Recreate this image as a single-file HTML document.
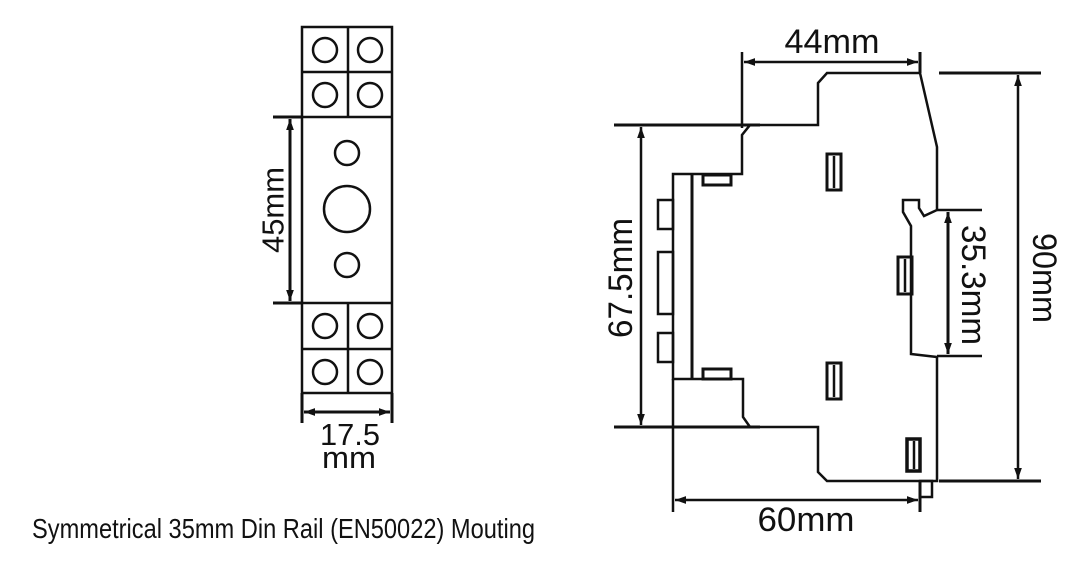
<!DOCTYPE html>
<html><head><meta charset="utf-8"><style>
html,body{margin:0;padding:0;background:#fff;}
svg{display:block;}
text{font-family:"Liberation Sans",Arial,sans-serif;fill:#111;}
</style></head><body>
<svg width="1089" height="569" viewBox="0 0 1089 569" xmlns="http://www.w3.org/2000/svg">
<defs>
<marker id="a" viewBox="0 0 10 10" refX="10" refY="5" markerWidth="11" markerHeight="11" markerUnits="userSpaceOnUse" orient="auto-start-reverse"><path d="M0,1.5 L10,5 L0,8.5 Z" fill="#111"/></marker>
</defs>
<g fill="none" stroke="#111" stroke-width="2.5">
<rect x="302" y="27" width="90" height="366"/>
<line x1="302" y1="72" x2="392" y2="72"/>
<line x1="302" y1="117" x2="392" y2="117"/>
<line x1="302" y1="303" x2="392" y2="303"/>
<line x1="302" y1="349" x2="392" y2="349"/>
<line x1="348" y1="27" x2="348" y2="117"/>
<line x1="348" y1="303" x2="348" y2="393"/>
<circle cx="325" cy="50" r="12"/><circle cx="370" cy="50" r="12"/>
<circle cx="325" cy="95" r="12"/><circle cx="370" cy="95" r="12"/>
<circle cx="325" cy="326" r="12"/><circle cx="370" cy="326" r="12"/>
<circle cx="325" cy="372" r="12"/><circle cx="370" cy="372" r="12"/>
<circle cx="347" cy="153" r="12"/>
<circle cx="347" cy="209" r="23"/>
<circle cx="347" cy="265" r="12"/>
<line x1="273" y1="117" x2="302" y2="117" stroke-width="3"/>
<line x1="273" y1="303" x2="302" y2="303" stroke-width="3"/>
<line x1="290" y1="119" x2="290" y2="301" stroke-width="3" marker-start="url(#a)" marker-end="url(#a)"/>
<line x1="302" y1="393" x2="302" y2="423" stroke-width="3"/>
<line x1="392" y1="393" x2="392" y2="423" stroke-width="3"/>
<line x1="304" y1="412" x2="390" y2="412" stroke-width="3" marker-start="url(#a)" marker-end="url(#a)"/>

<path d="M827,73 L920,73 L937,147 L937,210 L924,216 L919,208 L919,200 L903,200 L903,212 L911,226 L911,354 L937,357 L937,481 L827,481 L818,472 L818,427 L750,427 L743,417 L743,379 L673,379 L673,174 L742,174 L742,135 L750,125 L818,125 L818,83 Z"/>
<line x1="692" y1="174" x2="692" y2="379" stroke-width="3"/>
<rect x="703" y="175" width="28" height="10" stroke-width="3"/>
<rect x="703" y="369" width="28" height="10" stroke-width="3"/>
<rect x="658" y="200" width="15" height="29"/>
<rect x="658" y="252" width="15" height="62"/>
<rect x="658" y="333" width="15" height="29"/>
<rect x="827" y="154" width="14" height="36" stroke-width="3"/><line x1="834" y1="156" x2="834" y2="188"/>
<rect x="827" y="363" width="14" height="36" stroke-width="3"/><line x1="834" y1="365" x2="834" y2="397"/>
<rect x="898" y="257" width="14" height="37" stroke-width="3"/><line x1="905" y1="259" x2="905" y2="292"/>
<rect x="907" y="439" width="13" height="32" stroke-width="3.5"/><line x1="914" y1="441" x2="914" y2="469"/>
<rect x="920" y="481" width="12" height="16"/>
<line x1="742" y1="52" x2="742" y2="128" stroke-width="2.5"/>
<line x1="920" y1="52" x2="920" y2="73" stroke-width="3"/>
<line x1="744" y1="62" x2="918" y2="62" stroke-width="2.5" marker-start="url(#a)" marker-end="url(#a)"/>
<line x1="614" y1="125" x2="760" y2="125" stroke-width="3"/>
<line x1="614" y1="427" x2="760" y2="427" stroke-width="3"/>
<line x1="641" y1="127" x2="641" y2="425" stroke-width="2.5" marker-start="url(#a)" marker-end="url(#a)"/>
<line x1="673" y1="379" x2="673" y2="512" stroke-width="2.5"/>
<line x1="920" y1="481" x2="920" y2="512" stroke-width="3"/>
<line x1="675" y1="500" x2="918" y2="500" stroke-width="2.5" marker-start="url(#a)" marker-end="url(#a)"/>
<line x1="937" y1="210" x2="982" y2="210" stroke-width="2.5"/>
<line x1="937" y1="356" x2="982" y2="356" stroke-width="2.5"/>
<line x1="948" y1="212" x2="948" y2="354" stroke-width="3" marker-start="url(#a)" marker-end="url(#a)"/>
<line x1="939" y1="73" x2="1041" y2="73" stroke-width="3"/>
<line x1="939" y1="481" x2="1041" y2="481" stroke-width="3"/>
<line x1="1018" y1="75" x2="1018" y2="479" stroke-width="2.5" marker-start="url(#a)" marker-end="url(#a)"/>
</g>
<g font-size="31">
<text x="273" y="210" text-anchor="middle" dominant-baseline="central" textLength="86" lengthAdjust="spacingAndGlyphs" transform="rotate(-90 273 210)">45mm</text>
<text x="350" y="445" text-anchor="middle" textLength="60" lengthAdjust="spacingAndGlyphs">17.5</text>
<text x="349" y="468" text-anchor="middle" textLength="54" lengthAdjust="spacingAndGlyphs">mm</text>
</g>
<g font-size="34">
<text x="832" y="53" text-anchor="middle" textLength="95" lengthAdjust="spacingAndGlyphs">44mm</text>
<text x="806" y="531" text-anchor="middle" textLength="97" lengthAdjust="spacingAndGlyphs">60mm</text>
<text x="621" y="278" text-anchor="middle" dominant-baseline="central" textLength="120" lengthAdjust="spacingAndGlyphs" transform="rotate(-90 621 278)">67.5mm</text>
<text x="973" y="285" text-anchor="middle" dominant-baseline="central" textLength="120" lengthAdjust="spacingAndGlyphs" transform="rotate(90 973 285)">35.3mm</text>
<text x="1044" y="278" text-anchor="middle" dominant-baseline="central" textLength="90" lengthAdjust="spacingAndGlyphs" transform="rotate(90 1044 278)">90mm</text>
</g>
<text x="32" y="538" font-size="28" textLength="503" lengthAdjust="spacingAndGlyphs">Symmetrical 35mm Din Rail (EN50022) Mouting</text>
</svg>
</body></html>
